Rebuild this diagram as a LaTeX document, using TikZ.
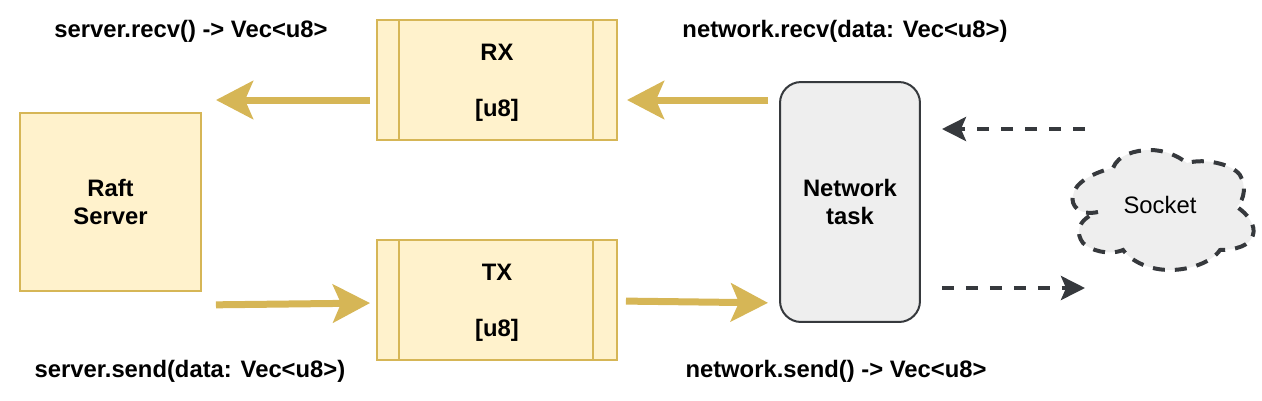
\documentclass[tikz,border=0pt]{standalone}
\usepackage{fontspec}
\setmainfont{Liberation Sans}
\usetikzlibrary{arrows.meta}
\definecolor{paleyellow}{HTML}{FFF2CC}
\definecolor{darkyellow}{HTML}{D6B656}
\definecolor{palegray}{HTML}{EEEEEE}
\definecolor{darkgray}{HTML}{36393D}
\begin{document}
\begin{tikzpicture}[
  x=0.02cm, y=-0.02cm,
  txt/.style={font=\fontsize{13.55pt}{15.93pt}\selectfont\bfseries, align=center, inner sep=0pt},
  block/.style={rectangle, draw=darkyellow, fill=paleyellow, line width=0.04cm, txt},
  queue/.style={block, minimum width=4.8cm, minimum height=2.4cm},
  task/.style={rectangle, rounded corners=0.42cm, draw=darkgray, fill=palegray, line width=0.04cm, txt, minimum width=2.8cm, minimum height=4.8cm},
  flow/.style={-{Stealth[length=0.74cm, width=0.76cm, inset=0.16cm]}, darkyellow, line width=0.14cm},
  wire/.style={-{Stealth[length=0.48cm, width=0.48cm, inset=0.1cm]}, darkgray, line width=0.08cm, dash pattern=on 0.24cm off 0.24cm}
]
\useasboundingbox (0,0) rectangle (1262,400);

\node[block, minimum width=3.62cm, minimum height=3.56cm] (server) at (110.5,202) {Raft\\Server};
\node[queue] (rx) at (497,80) {\rule{0pt}{0.43cm}RX\\ \\{}[u8]};
\node[queue] (tx) at (497,300) {\rule{0pt}{0.43cm}TX\\ \\{}[u8]};
\node[task] (netw) at (850,202) {Network\\task};

\foreach \q in {rx,tx} {
  \draw[darkyellow, line width=0.04cm] ([xshift=0.46cm]\q.north west) -- ([xshift=0.46cm]\q.south west);
  \draw[darkyellow, line width=0.04cm] ([xshift=-0.5cm]\q.north east) -- ([xshift=-0.5cm]\q.south east);
}

% socket cloud
\draw[darkgray, fill=palegray, line width=0.08cm, dash pattern=on 0.24cm off 0.2cm]
  (1098,212) .. controls (1080,216) and (1070,206) .. (1073,195)
  .. controls (1075,182) and (1095,172) .. (1113,168)
  .. controls (1118,155) and (1135,150) .. (1150,150)
  .. controls (1165,150) and (1178,156) .. (1187,163)
  .. controls (1205,158) and (1232,164) .. (1240,175)
  .. controls (1246,186) and (1245,198) .. (1237,207)
  .. controls (1248,214) and (1256,226) .. (1253,235)
  .. controls (1250,246) and (1235,250) .. (1220,250)
  .. controls (1212,262) and (1190,270) .. (1170,270)
  .. controls (1150,270) and (1132,262) .. (1123,250)
  .. controls (1108,256) and (1090,250) .. (1083,243)
  .. controls (1076,234) and (1076,220) .. (1098,212) -- cycle;
\node[font=\fontsize{13.55pt}{16pt}\selectfont, inner sep=0pt] (socket) at (1160,205) {Socket};

\node[txt] (srecv) at (191,31) {server.recv() -> Vec<u8>};
\node[txt] (nrecv) at (845,31) {network.recv(data: Vec<u8>)};
\node[txt] (ssend) at (190,371) {server.send(data: Vec<u8>)};
\node[txt] (nsend) at (836,371) {network.send() -> Vec<u8>};

\coordinate (rxlevel) at (0,100);
\coordinate (sockin) at (1085,129);
\coordinate (sockout) at (1085,288);

\draw[flow, shorten <=0.12cm, shorten >=0.28cm] (rx.west |- rxlevel) -- (server.east |- rxlevel);
\draw[flow, shorten <=0.22cm, shorten >=0.18cm] (netw.west |- rxlevel) -- (rx.east |- rxlevel);
\draw[flow, shorten <=0.28cm, shorten >=0.12cm] ([yshift=-2.06cm]server.east) -- ([yshift=-0.06cm]tx.west);
\draw[flow, shorten <=0.16cm, shorten >=0.22cm] ([yshift=-0.02cm]tx.east) -- ([yshift=-2.02cm]netw.west);
\draw[wire] (sockin) -- ([xshift=0.42cm]netw.east |- sockin);
\draw[wire] ([xshift=0.42cm]netw.east |- sockout) -- (sockout);
\end{tikzpicture}
\end{document}
